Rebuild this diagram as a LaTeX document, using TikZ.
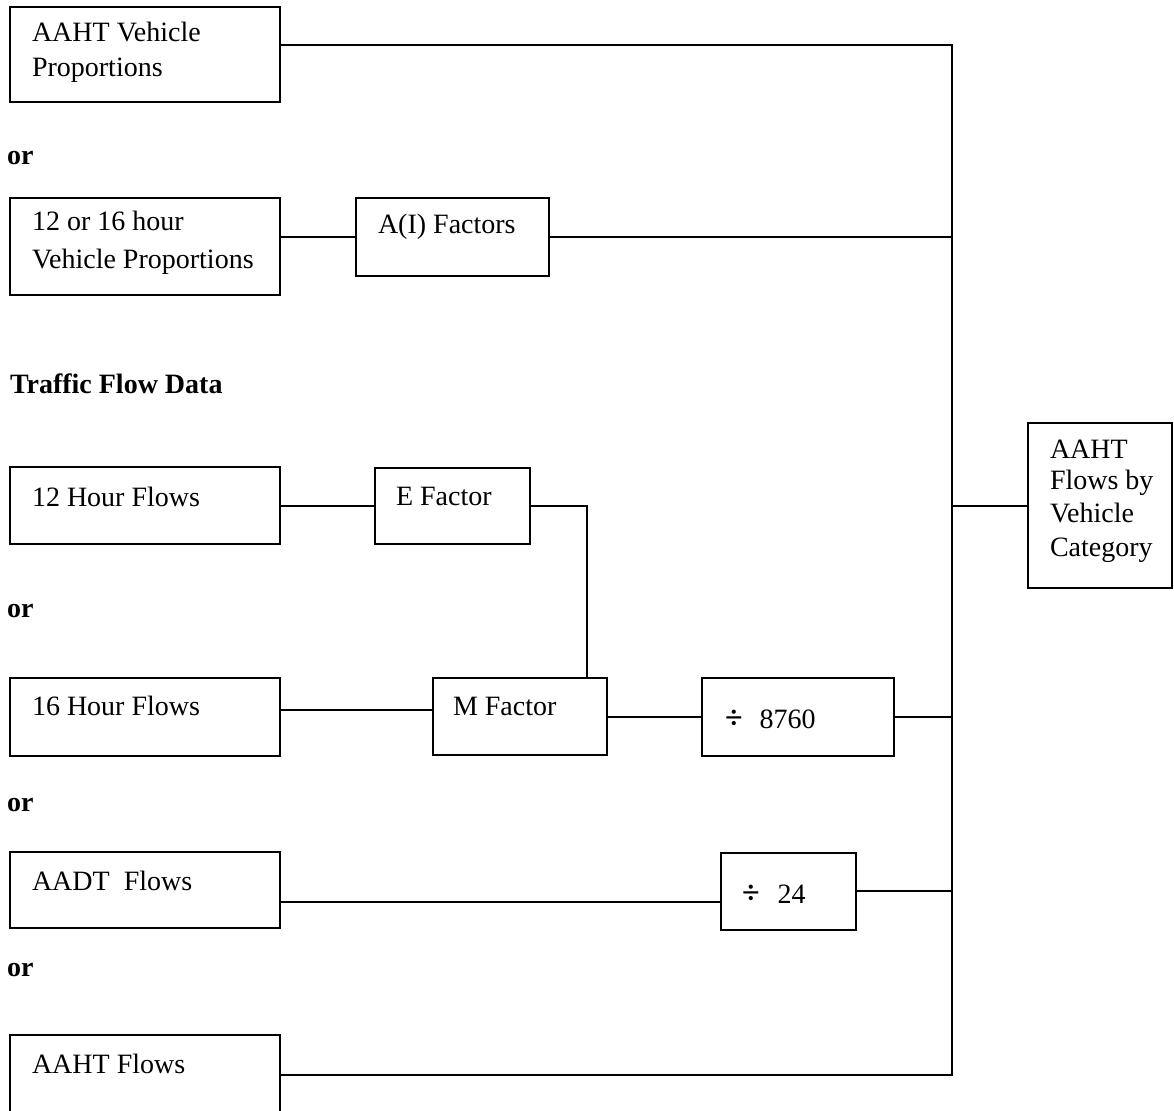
\documentclass[tikz,border=0pt]{standalone}
\usepackage{fontspec}
\setmainfont{Liberation Serif}
\newcommand{\divsym}{{\fontsize{32}{32}\selectfont\bfseries ÷}}
\begin{document}
\begin{tikzpicture}[x=1pt,y=1pt,
  box/.style={draw=black,line width=1.6pt,inner sep=0pt,outer sep=0pt,rectangle},
  txt/.style={anchor=base west,inner sep=0pt,outer sep=0pt,font=\fontsize{28}{34}\selectfont},
  btxt/.style={txt,font=\fontsize{28}{34}\selectfont\bfseries},
  wire/.style={line width=1.6pt,draw=black}]
\useasboundingbox (0,0) rectangle (1174,-1110);
\clip (0,0) rectangle (1174,-1110);
% boxes
\node[box,minimum width=270pt,minimum height=95pt] (b1) at (145,-54.5) {};
\node[box,minimum width=270pt,minimum height=97pt] (b2) at (145,-246.5) {};
\node[box,minimum width=193pt,minimum height=78pt] (ai) at (452.5,-237) {};
\node[box,minimum width=270pt,minimum height=77pt] (b3) at (145,-505.5) {};
\node[box,minimum width=155pt,minimum height=76pt] (ef) at (452.5,-506) {};
\node[box,minimum width=270pt,minimum height=78pt] (b4) at (145,-717) {};
\node[box,minimum width=174pt,minimum height=77pt] (mf) at (520,-716.5) {};
\node[box,minimum width=192pt,minimum height=78pt] (d1) at (798,-717) {};
\node[box,minimum width=270pt,minimum height=76pt] (b5) at (145,-890) {};
\node[box,minimum width=135pt,minimum height=77pt] (d2) at (788.5,-891.5) {};
\node[box,minimum width=270pt,minimum height=115pt] (b6) at (145,-1092.5) {};
\node[box,minimum width=144pt,minimum height=165pt] (out) at (1100,-505.5) {};
% texts
\node[txt] (t1a) at (32,-42) {AAHT Vehicle};
\node[txt] (t1b) at (32,-77) {Proportions};
\node[btxt] (or1) at (7,-165) {or};
\node[txt] (t2a) at (32,-230) {12 or 16 hour};
\node[txt] (t2b) at (32,-268) {Vehicle Proportions};
\node[txt] (tai) at (378,-233) {A(I) Factors};
\node[btxt] (tfd) at (10,-393) {Traffic Flow Data};
\node[txt] (t3) at (32,-506) {12 Hour Flows};
\node[txt] (tef) at (396,-505) {E Factor};
\node[btxt] (or2) at (7,-617) {or};
\node[txt] (t4) at (32,-715) {16 Hour Flows};
\node[txt] (tmf) at (453,-715) {M Factor};
\node[txt] (td1) at (725,-728) {\divsym\hspace{17pt}8760};
\node[btxt] (or3) at (7,-811) {or};
\node[txt] (t5) at (32,-890) {AADT\ \ Flows};
\node[txt] (td2) at (742,-903) {\divsym\hspace{18pt}24};
\node[btxt] (or4) at (7,-976) {or};
\node[txt] (t6) at (32,-1073) {AAHT Flows};
\node[txt] (to1) at (1050,-458) {AAHT};
\node[txt] (to2) at (1050,-489) {Flows by};
\node[txt] (to3) at (1050,-522) {Vehicle};
\node[txt] (to4) at (1050,-556) {Category};
% trunk junctions
\coordinate (j1) at (952,-45);
\coordinate (j2) at (952,-237);
\coordinate (j3) at (952,-506);
\coordinate (j4) at (952,-717);
\coordinate (j5) at (952,-891);
\coordinate (j6) at (952,-1075);
\coordinate (em) at (587,-506);
\coordinate (l3) at (0,-506);
\coordinate (l4) at (0,-710);
\coordinate (l5) at (0,-902);
% connectors
\draw[wire] (b1.east |- j1) -- (j1) -- (j6) -- (b6.east |- j6);
\draw[wire] (b2.east |- j2) -- (ai.west |- j2);
\draw[wire] (ai.east |- j2) -- (j2);
\draw[wire] (b3.east |- l3) -- (ef.west |- l3);
\draw[wire] (ef.east |- em) -- (em) -- (mf.north -| em);
\draw[wire] (b4.east |- l4) -- (mf.west |- l4);
\draw[wire] (mf.east |- j4) -- (d1.west |- j4);
\draw[wire] (d1.east |- j4) -- (j4);
\draw[wire] (b5.east |- l5) -- (d2.west |- l5);
\draw[wire] (d2.east |- j5) -- (j5);
\draw[wire] (j3) -- (out.west |- j3);
\end{tikzpicture}
\end{document}
